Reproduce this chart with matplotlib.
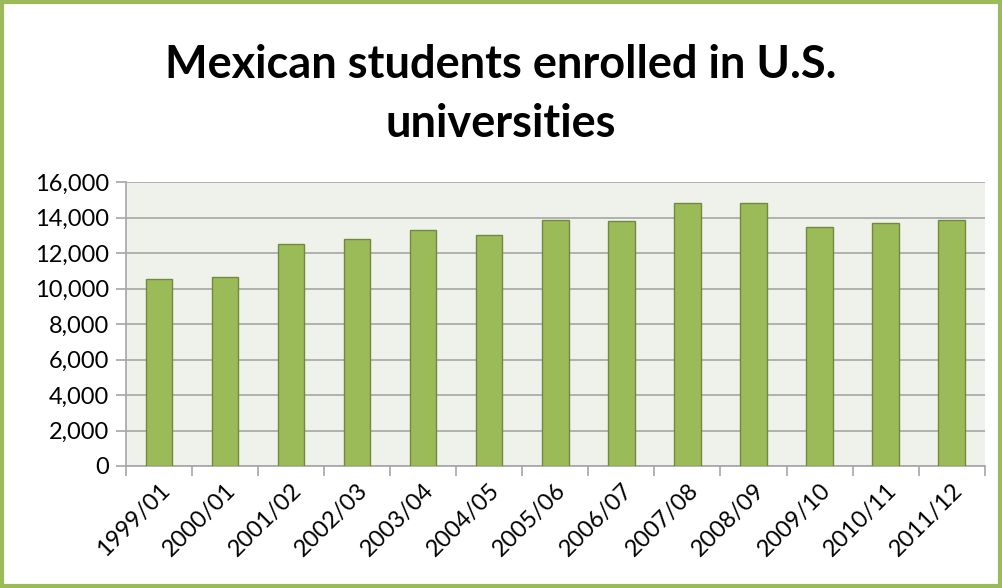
import matplotlib.pyplot as plt
from matplotlib.patches import Rectangle
from matplotlib.ticker import FuncFormatter, MultipleLocator

years = ['1999/01', '2000/01', '2001/02', '2002/03', '2003/04', '2004/05', '2005/06',
         '2006/07', '2007/08', '2008/09', '2009/10', '2010/11', '2011/12']
students = [10570, 10650, 12540, 12820, 13330, 13030, 13890,
            13800, 14830, 14840, 13460, 13680, 13890]

plt.rcParams['font.family'] = ['Lato', 'DejaVu Sans']

fig = plt.figure(figsize=(10.02, 5.88), dpi=100)
ax = fig.add_axes([0.1257, 0.2075, 0.857, 0.4825])

x = range(len(years))
ax.bar(x, students, width=0.4, color='#9BBB59', edgecolor='#71893F', linewidth=1, zorder=3)

ax.set_facecolor('#EFF2EA')
ax.set_xlim(-0.5, len(years) - 0.5)
ax.set_ylim(0, 16000)
ax.yaxis.set_major_locator(MultipleLocator(2000))
ax.yaxis.set_major_formatter(FuncFormatter(lambda v, p: f'{int(v):,}'))
ax.grid(axis='y', color='#A6A6A6', linewidth=1.2, zorder=0)

# category boundaries get the tick marks, category centres get the labels
ax.set_xticks([i + 0.5 for i in range(-1, len(years))])
ax.set_xticklabels([])
ax.set_xticks(list(x), minor=True)
ax.set_xticklabels(years, minor=True, rotation=45, ha='right', rotation_mode='anchor', fontsize=17)
ax.tick_params(axis='x', which='minor', length=0, pad=10)
ax.tick_params(axis='x', which='major', length=7, color='#A6A6A6', width=1.2)
ax.tick_params(axis='y', length=7, color='#A6A6A6', width=1.2, labelsize=17, pad=5)

for s in ['top', 'right']:
    ax.spines[s].set_visible(False)
for s in ['left', 'bottom']:
    ax.spines[s].set_color('#A6A6A6')
    ax.spines[s].set_linewidth(1.2)

fig.text(0.5, 0.84, 'Mexican students enrolled in U.S.\nuniversities', ha='center', va='center',
         fontsize=32.5, fontweight='bold', linespacing=1.5)

fig.patches.append(Rectangle((0.002, 0.003), 0.996, 0.994, transform=fig.transFigure,
                             fill=False, edgecolor='#9BBB59', linewidth=3))

fig.savefig('out.png', dpi=100)
